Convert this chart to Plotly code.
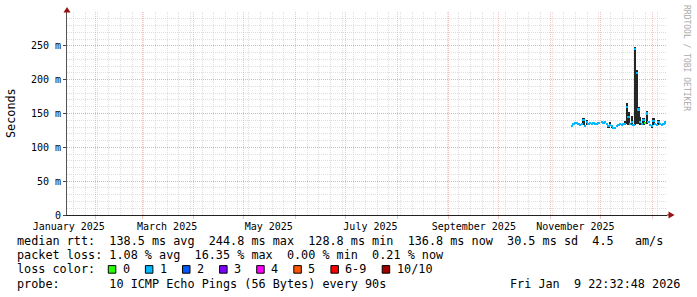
import math
import pandas as pd
import plotly.graph_objects as go

# ---------------- data ----------------
start_day = "2025-11-14"
median_ms = [132, 135, 136, 136, 135, 133, 134, 140, 132, 137,
             135, 136, 135, 136, 135, 134, 136, None, 137, 136,
             137, 134, 131, 133, 131, 128.8, 129, 132, 133, 134,
             133, 134, 135, 160, 145, 134, 137, 133, 244.8, 210,
             156, 137, 134, 140, 136, 150, 137, 133, 131, 139,
             135, 133, 138, 134, 133, 135, 136.8]
smoke_lo = [131, 134, 135, 135, 134, 132, 133, 133, 131, 133,
            134, 135, 134, 135, 134, 133, 135, None, 136, 135,
            136, 133, 130, 131, 130, 127.8, 128, 131, 132, 133,
            132, 133, 134, 134, 133, 133, 133, 132, 133, 134,
            134, 133, 133, 133, 135, 134, 136, 132, 130, 133,
            134, 132, 133, 133, 132, 134, 135.8]
smoke_hi = [133, 136, 137, 137, 136, 134, 135, 144, 133, 140,
            136, 137, 136, 137, 136, 135, 137, None, 138, 137,
            138, 135, 132, 137, 132, 129.8, 130, 133, 134, 135,
            134, 135, 139, 166, 152, 135, 146, 134, 249, 214,
            160, 145, 135, 144, 137, 153, 138, 134, 132, 143,
            136, 134, 141, 135, 134, 136, 137.8]
loss_pct = [1, 1, 1, 1, 1, 1, 1, 2, 1, 1,
            1, 1, 1, 1, 1, 1, 1, None, 1, 1,
            1, 1, 1, 1, 1, 1, 1, 1, 1, 1,
            1, 1, 1, 2, 2, 1, 1, 1, 3, 3,
            2, 1, 1, 1, 0, 2, 1, 1, 1, 1,
            1, 1, 1, 1, 1, 1, 0.21]

y_tick_vals = [0, 50, 100, 150, 200, 250]
y_tick_text = ["0", "50 m", "100 m", "150 m", "200 m", "250 m"]
x_label_vals = ["2025-01-16", "2025-03-16", "2025-05-16", "2025-07-16", "2025-09-16", "2025-11-16"]
x_label_text = ["January 2025", "March 2025", "May 2025", "July 2025", "September 2025", "November 2025"]

rtt_stats = ["138.5 ms avg", "244.8 ms max", "128.8 ms min", "136.8 ms now", "30.5 ms sd", "4.5   am/s"]
loss_stats = ["1.08 % avg", "16.35 % max", "0.00 % min", "0.21 % now"]
loss_labels = ["0", "1", "2", "3", "4", "5", "6-9", "10/10"]
loss_colors = ["#26ff00", "#00b8ff", "#0059ff", "#7e00ff", "#ff00ff", "#ff5500", "#ff0000", "#a10000"]
probe_text = "10 ICMP Echo Pings (56 Bytes) every 90s"
stamp_text = "Fri Jan  9 22:32:48 2026"

x_range = ["2025-01-14 22:32:48", "2026-01-09 22:32:48"]

# ---------------- geometry ----------------
W, H = 697, 297
L, R, T, B = 67, 30, 12, 82
PW, PH = W - L - R, H - T - B
FONT = "DejaVu Sans Mono"


def px(x):
    return (x - L) / PW


def py(y):
    return (H - B - y) / PH


def nb(s):
    return s.replace(" ", "\u00a0")


dates = pd.date_range(start_day, periods=len(median_ms), freq="D")
DAY = 86400000


def bucket(l):
    if l is None:
        return None
    if l == 0:
        return 0
    n = math.ceil(l / 10.0)
    return min(n, 6) if n < 10 else 7


fig = go.Figure()

# smoke
sx, sb, sh = [], [], []
for d, lo, hi in zip(dates, smoke_lo, smoke_hi):
    if lo is None:
        continue
    sx.append(d)
    sb.append(lo)
    sh.append(hi - lo)
fig.add_trace(go.Bar(x=sx, y=sh, base=sb, width=[DAY] * len(sx),
                     marker=dict(color="#262626", line=dict(width=0)),
                     hoverinfo="skip", showlegend=False))

# median, coloured by loss
mx, mb, mh, mc = [], [], [], []
for d, m, l in zip(dates, median_ms, loss_pct):
    if m is None:
        continue
    mx.append(d)
    mb.append(m - 1.6)
    mh.append(3.2)
    mc.append(loss_colors[bucket(l)])
fig.add_trace(go.Bar(x=mx, y=mh, base=mb, width=[DAY] * len(mx),
                     marker=dict(color=mc, line=dict(width=0)),
                     hoverinfo="skip", showlegend=False))

MAJOR = "rgba(230,140,140,0.55)"
MINOR = "rgba(200,200,200,0.6)"

fig.update_layout(
    width=W, height=H,
    margin=dict(l=L, r=R, t=T, b=B, pad=0),
    paper_bgcolor="white", plot_bgcolor="white",
    barmode="overlay", bargap=0,
    font=dict(family=FONT, size=10, color="black"),
    xaxis=dict(type="date", range=x_range, showticklabels=False,
               tickmode="linear", tick0="2025-01-01", dtick="M1",
               showgrid=True, gridcolor=MAJOR, griddash="1px,1px", gridwidth=1,
               ticks="outside", ticklen=3, tickcolor=MAJOR,
               minor=dict(tickmode="linear", tick0="2025-01-05", dtick=7 * DAY,
                          showgrid=True, gridcolor=MINOR, griddash="1px,1px", ticks=""),
               showline=True, linecolor="#222222", linewidth=1, zeroline=False),
    xaxis2=dict(type="date", range=x_range, overlaying="x", anchor="y", side="bottom",
                tickmode="array", tickvals=x_label_vals, ticktext=x_label_text,
                showgrid=False, showline=False, zeroline=False, ticks="",
                tickfont=dict(family=FONT, size=10, color="black"), ticklabelstandoff=4),
    yaxis=dict(range=[0, 300], tickmode="array", tickvals=y_tick_vals, ticktext=y_tick_text,
               showgrid=True, gridcolor=MAJOR, griddash="1px,1px",
               minor=dict(tickmode="linear", tick0=0, dtick=10, showgrid=True,
                          gridcolor=MINOR, griddash="1px,1px", ticks=""),
               ticks="outside", ticklen=3, tickcolor="#444444",
               tickfont=dict(family=FONT, size=10, color="black"),
               showline=True, linecolor="#555555", linewidth=1, zeroline=False),
)

fig.add_trace(go.Scatter(x=[x_range[0]], y=[None], xaxis="x2", yaxis="y",
                         mode="markers", hoverinfo="skip", showlegend=False))

shapes = []
# axis arrow heads
shapes.append(dict(type="path", xref="paper", yref="paper",
                   path=f"M {px(67)} {py(7)} L {px(63.5)} {py(12.5)} L {px(70.5)} {py(12.5)} Z",
                   fillcolor="#9a1010", line=dict(width=0)))
shapes.append(dict(type="line", xref="paper", yref="paper", x0=px(667), x1=px(669),
                   y0=py(215), y1=py(215), line=dict(color="#222222", width=1)))
shapes.append(dict(type="path", xref="paper", yref="paper",
                   path=f"M {px(674.5)} {py(215)} L {px(668.5)} {py(211.5)} L {px(668.5)} {py(218.5)} Z",
                   fillcolor="#9a1010", line=dict(width=0)))

annotations = []
TXT = 11.8
CW = 7.1
X0 = 16
rows = [241, 255.2, 269.4, 283.6]


def text_at(x, y, s, anchor="left", size=TXT, color="black", angle=0):
    annotations.append(dict(xref="paper", yref="paper", x=px(x), y=py(y), text=nb(s),
                            showarrow=False, xanchor=anchor, yanchor="middle",
                            textangle=angle, borderpad=0,
                            font=dict(family=FONT, size=size, color=color)))


text_at(X0, rows[0], "median rtt:  " + "  ".join(rtt_stats))
text_at(X0, rows[1], "packet loss: " + "  ".join(loss_stats))
text_at(X0, rows[2], "loss color:")
text_at(X0, rows[3], "probe:       " + probe_text)
text_at(681, rows[3], stamp_text, anchor="right")

bx = X0 + 13 * CW
for lab, col in zip(loss_labels, loss_colors):
    shapes.append(dict(type="rect", xref="paper", yref="paper",
                       x0=px(bx), x1=px(bx + 7.5), y0=py(rows[2] + 3.8), y1=py(rows[2] - 3.8),
                       fillcolor=col, line=dict(color="black", width=1)))
    text_at(bx + 13.5, rows[2], lab)
    bx += 37.1 + (len(lab) - 1) * CW

text_at(11, 113, "Seconds", anchor="center", angle=-90)
text_at(686, 58, "RRDTOOL / TOBI OETIKER", anchor="center", size=8, color="#aaaaaa", angle=90)

fig.update_layout(shapes=shapes, annotations=annotations)
fig.write_html("out.html")
